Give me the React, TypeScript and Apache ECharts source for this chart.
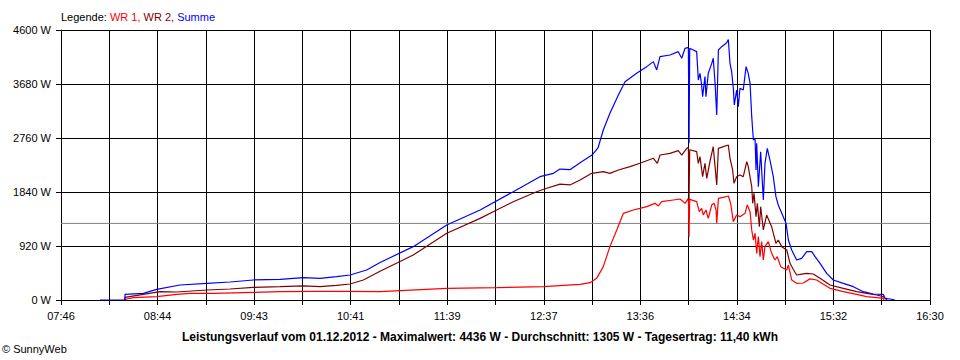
import React, { useEffect, useRef } from 'react';
import * as echarts from 'echarts';

// Tick labels of the time axis (every second grid line is labelled)
const xTickLabels = ['07:46', '08:44', '09:43', '10:41', '11:39', '12:37', '13:36', '14:34', '15:32', '16:30'];
// Power axis
const yMaxW = 4600;
const yStepW = 920;
// Daily average (grey line)
const averageW = 1305;

// [minutes since midnight, watts]
const wr1: [number, number][] = [
  [504.5, 0], [505.6, 17], [509.6, 40], [523.7, 57], [535.8, 97], [543.8, 114], [557.8, 114], [582.0, 131],
  [598.1, 142], [618.1, 148], [638.3, 148], [658.4, 142], [698.6, 199], [728.7, 210], [756.8, 227], [779.0, 267],
  [785.0, 295], [789.0, 369], [793.0, 568], [797.0, 909], [801.1, 1193], [805.1, 1477], [811.1, 1533], [815.1, 1560],
  [819.2, 1590], [824.2, 1647], [826.2, 1602], [828.2, 1675], [835.2, 1704], [839.3, 1721], [842.3, 1647], [844.3, 1732],
  [844.7, 1079], [845.1, 1715], [849.3, 1675], [850.9, 1505], [852.3, 1562], [853.3, 1448], [854.9, 1533], [856.3, 1392],
  [858.4, 1619], [859.8, 1647], [861.0, 1533], [861.4, 1306], [862.4, 1732], [865.4, 1749], [868.4, 1772], [869.8, 1647],
  [871.4, 1335], [873.4, 1448], [875.4, 1420], [878.5, 1477], [879.8, 1619], [881.5, 1505], [882.5, 1193], [883.5, 1022],
  [884.5, 1136], [885.5, 795], [886.5, 1079], [887.5, 738], [888.5, 994], [889.5, 681], [890.5, 909], [892.5, 994],
  [894.5, 795], [896.5, 681], [897.9, 738], [900.0, 568], [903.6, 511], [904.6, 596], [906.6, 341], [909.6, 284],
  [913.6, 290], [917.6, 360], [921.7, 341], [924.7, 284], [929.7, 199], [937.7, 142], [945.8, 97], [951.8, 57],
  [957.9, 40], [961.7, 29], [962.3, 0],
];

const wr2: [number, number][] = [
  [504.5, 0], [504.6, 46], [515.6, 97], [525.7, 142], [535.8, 136], [553.9, 170], [567.9, 187], [582.0, 216],
  [598.1, 227], [612.1, 239], [622.2, 227], [632.2, 250], [640.3, 273], [648.3, 341], [658.4, 490], [678.4, 767],
  [698.6, 1136], [718.7, 1391], [728.7, 1533], [738.7, 1675], [752.8, 1845], [758.9, 1903], [766.9, 1975], [772.9, 1960],
  [779.0, 2044], [786.0, 2158], [793.0, 2186], [797.0, 2158], [802.1, 2215], [809.1, 2272], [815.1, 2329], [823.2, 2414],
  [825.6, 2329], [827.2, 2470], [833.2, 2499], [838.2, 2544], [840.3, 2470], [843.3, 2584], [844.3, 2601], [844.7, 1704],
  [845.1, 2560], [849.3, 2527], [850.3, 2329], [851.3, 2442], [852.9, 2101], [854.3, 2329], [855.4, 2073], [857.3, 2357],
  [859.3, 2612], [860.4, 2272], [861.4, 1960], [862.4, 2584], [865.4, 2612], [868.4, 2641], [869.4, 2414], [871.0, 2215],
  [871.8, 1988], [873.4, 2101], [875.4, 2130], [877.4, 2101], [879.5, 2357], [880.4, 2272], [882.5, 1931], [883.1, 1647],
  [883.9, 1817], [885.1, 1420], [885.9, 1647], [887.1, 1249], [887.9, 1590], [889.5, 1193], [891.5, 1448], [894.5, 1249],
  [897.1, 966], [898.5, 1022], [900.6, 909], [903.6, 852], [905.6, 625], [907.6, 520], [909.6, 426], [912.6, 440],
  [915.7, 454], [919.6, 443], [923.7, 369], [929.7, 256], [937.7, 199], [945.8, 142], [951.8, 114], [957.9, 85],
  [961.8, 57], [964.1, 0],
];

const summe: [number, number][] = [
  [489.5, 0], [504.5, 0], [504.6, 97], [515.6, 114], [523.7, 182], [537.8, 256], [553.9, 284], [567.9, 307],
  [582.0, 341], [598.1, 352], [612.1, 380], [622.2, 369], [632.2, 397], [640.3, 426], [650.3, 511], [658.4, 640],
  [678.4, 909], [698.6, 1278], [718.7, 1533], [738.7, 1845], [754.8, 2101], [762.9, 2158], [766.9, 2230], [772.9, 2220],
  [779.0, 2340], [786.2, 2470], [789.8, 2590], [793.0, 2896], [797.0, 3181], [802.1, 3493], [806.1, 3720], [813.1, 3862],
  [819.2, 3976], [823.2, 4061], [825.2, 3919], [827.2, 4146], [833.2, 4174], [838.2, 4231], [840.3, 4118], [842.3, 4288],
  [844.3, 4305], [844.7, 2670], [845.1, 4290], [847.3, 4260], [849.3, 4231], [850.3, 3748], [851.3, 3862], [852.3, 3663],
  [852.9, 3464], [854.3, 3806], [854.9, 3464], [856.3, 3862], [858.4, 4032], [859.3, 4118], [860.4, 3692], [861.4, 3152],
  [862.4, 4260], [864.4, 4316], [867.4, 4384], [868.4, 4436], [869.4, 4033], [870.4, 3891], [871.4, 3607], [872.0, 3322],
  [873.4, 3578], [874.4, 3294], [875.4, 3607], [877.4, 3578], [879.1, 3976], [880.4, 3862], [881.5, 3692], [882.5, 3124],
  [883.5, 2726], [884.5, 2755], [885.1, 2215], [885.5, 2670], [886.5, 1931], [887.9, 2527], [889.5, 1704], [890.5, 2329],
  [891.9, 2584], [893.5, 2385], [895.5, 2101], [897.1, 1760], [898.5, 1619], [900.6, 1477], [903.2, 1306], [904.6, 1022],
  [906.6, 852], [909.6, 681], [912.6, 710], [915.7, 823], [918.7, 823], [920.7, 738], [923.7, 625], [927.7, 454],
  [931.7, 341], [937.7, 284], [943.8, 227], [949.8, 142], [955.8, 102], [961.8, 97], [962.9, 28], [965.9, 17],
  [968.9, 0],
];

const titleText = 'Leistungsverlauf vom 01.12.2012 - Maximalwert: 4436 W - Durchschnitt: 1305 W - Tagesertrag: 11,40 kWh';
const FONT = '"Liberation Sans", Arial, sans-serif';

const toMin = (s: string) => {
  const [h, m] = s.split(':').map(Number);
  return h * 60 + m;
};

export default function App() {
  const ref = useRef<HTMLDivElement>(null);
  useEffect(() => {
    const chart = echarts.init(ref.current!, null, { renderer: 'svg' });
    const start = toMin(xTickLabels[0]);
    const end = toMin(xTickLabels[xTickLabels.length - 1]);
    const span = end - start;
    const step = span / ((xTickLabels.length - 1) * 2);
    const shift = (d: [number, number][]) => d.map(([t, w]) => [t - start, w]);
    const lineSeries = (name: string, data: [number, number][], color: string, z: number) => ({
      type: 'line',
      name,
      data: shift(data),
      showSymbol: false,
      symbol: 'none',
      lineStyle: { color, width: 1.2 },
      z,
      silent: true,
    });

    chart.setOption({
      animation: false,
      backgroundColor: '#ffffff',
      grid: { left: 61, right: 30, top: 30, bottom: 60 },
      xAxis: {
        type: 'value',
        min: 0,
        max: span,
        interval: step,
        axisLine: { show: true, lineStyle: { color: '#000', width: 1 } },
        axisTick: { show: true, inside: false, length: 5, lineStyle: { color: '#000' } },
        splitLine: { show: true, lineStyle: { color: '#000', width: 1 } },
        axisLabel: {
          margin: 10,
          color: '#000',
          fontFamily: FONT,
          fontSize: 11,
          showMinLabel: true,
          showMaxLabel: true,
          hideOverlap: false,
          formatter: (v: number) => {
            const i = Math.round(v / step);
            return i % 2 === 0 ? xTickLabels[i / 2] ?? '' : '';
          },
        },
      },
      yAxis: {
        type: 'value',
        min: 0,
        max: yMaxW,
        interval: yStepW,
        axisLine: { show: true, lineStyle: { color: '#000', width: 1 } },
        axisTick: { show: true, inside: false, length: 5, lineStyle: { color: '#000' } },
        splitLine: { show: true, lineStyle: { color: '#000', width: 1 } },
        axisLabel: {
          margin: 10,
          color: '#000',
          fontFamily: FONT,
          fontSize: 11,
          formatter: (v: number) => `${v} W`,
        },
      },
      series: [
        {
          type: 'line',
          name: 'Durchschnitt',
          data: [[0, averageW], [span, averageW]],
          symbol: 'none',
          lineStyle: { color: '#808080', width: 1 },
          z: 1,
          silent: true,
        },
        lineSeries('WR 1', wr1, '#ff0000', 2),
        lineSeries('WR 2', wr2, '#800000', 3),
        lineSeries('Summe', summe, '#0000ff', 4),
      ],
      graphic: [
        {
          type: 'text',
          x: 61,
          y: 16.5,
          style: {
            text: '{k|Legende: }{a|WR 1, }{b|WR 2, }{c|Summe}',
            fontFamily: FONT,
            fontSize: 11,
            verticalAlign: 'middle',
            rich: {
              k: { fill: '#000', fontFamily: FONT, fontSize: 11 },
              a: { fill: '#ff0000', fontFamily: FONT, fontSize: 11 },
              b: { fill: '#800000', fontFamily: FONT, fontSize: 11 },
              c: { fill: '#0000ff', fontFamily: FONT, fontSize: 11 },
            },
          },
        },
        {
          type: 'text',
          x: 480,
          y: 337,
          style: {
            text: titleText,
            fill: '#000',
            font: `bold 12px ${FONT}`,
            align: 'center',
            verticalAlign: 'middle',
          },
        },
        {
          type: 'text',
          x: 2,
          y: 349,
          style: {
            text: '© SunnyWeb',
            fill: '#000',
            font: `11px ${FONT}`,
            align: 'left',
            verticalAlign: 'middle',
          },
        },
      ],
    });
    return () => chart.dispose();
  }, []);
  return (
    <div
      ref={ref}
      style={{ position: 'fixed', left: 0, top: 0, width: 960, height: 360, background: '#fff' }}
    />
  );
}
